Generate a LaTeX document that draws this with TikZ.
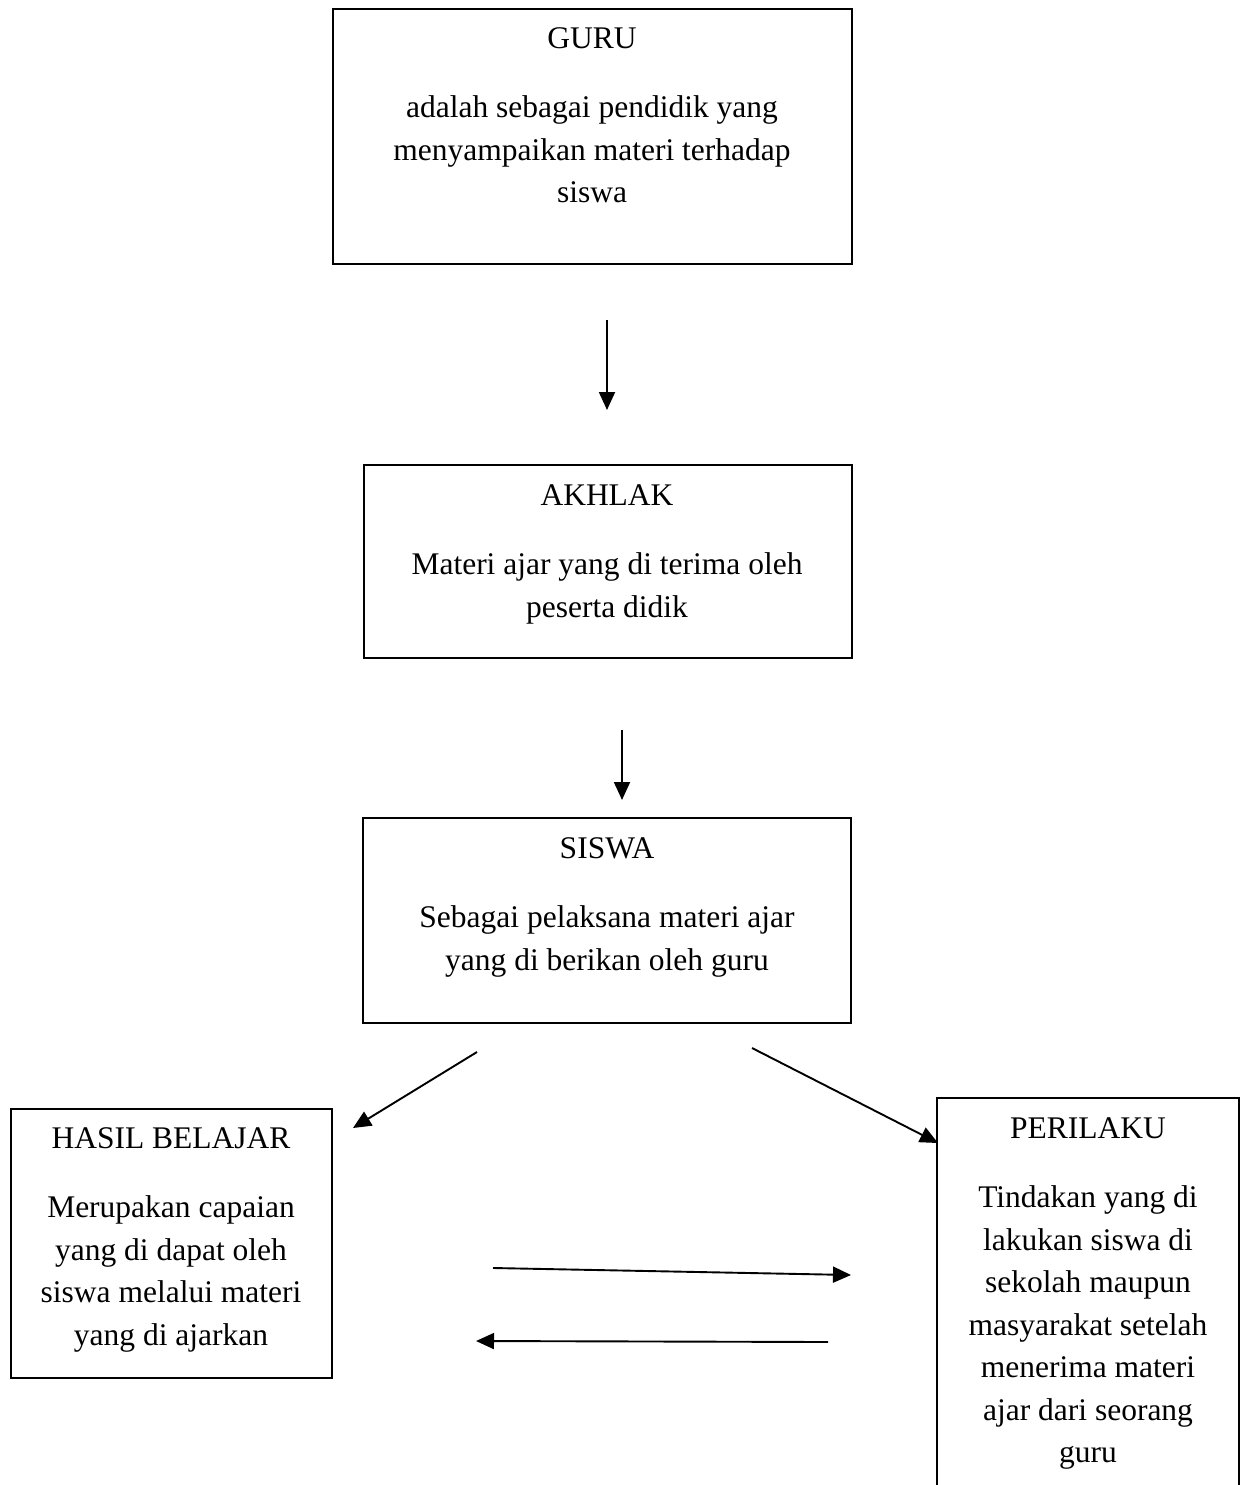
\documentclass[tikz,border=0pt]{standalone}
\usepackage{fontspec}
\setmainfont{Liberation Serif}
\usetikzlibrary{arrows.meta}
\begin{document}
\begin{tikzpicture}[x=1pt,y=-1pt,
  box/.style={draw, line width=1.7pt, inner sep=0pt},
  txt/.style={align=center, inner sep=0pt, anchor=north, font=\fontsize{31.5}{42.5}\selectfont},
  arr/.style={line width=1.9pt, -{Triangle[length=18pt,width=16pt]}}]
\useasboundingbox (0,0) rectangle (1240,1485);
% boxes
\node[box, minimum width=519pt, minimum height=255pt] (guru) at (592.5,136.5) {};
\node[box, minimum width=488pt, minimum height=193pt] (akhlak) at (608,561.5) {};
\node[box, minimum width=488pt, minimum height=205pt] (siswa) at (607,920.5) {};
\node[box, minimum width=321pt, minimum height=269pt] (hasil) at (171.5,1243.5) {};
\node[box, minimum width=302pt, minimum height=392pt] (perilaku) at (1088,1294) {};
% texts
\node[txt] (gurut) at (592,27.6) {GURU\\[26.5pt] adalah sebagai pendidik yang\\ menyampaikan materi terhadap\\ siswa};
\node[txt] (akhlakt) at (607,484.6) {AKHLAK\\[26.5pt] Materi ajar yang di terima oleh\\ peserta didik};
\node[txt] (siswat) at (607,837.6) {SISWA\\[26.5pt] Sebagai pelaksana materi ajar\\ yang di berikan oleh guru};
\node[txt] (hasilt) at (171,1127.6) {HASIL BELAJAR\\[26.5pt] Merupakan capaian\\ yang di dapat oleh\\ siswa melalui materi\\ yang di ajarkan};
\node[txt] (perilakut) at (1088,1117.6) {PERILAKU\\[26.5pt] Tindakan yang di\\ lakukan siswa di\\ sekolah maupun\\ masyarakat setelah\\ menerima materi\\ ajar dari seorang\\ guru};
% arrow end points
\coordinate (a1s) at (607,320); \coordinate (a1e) at (607,410);
\coordinate (a2s) at (622,730); \coordinate (a2e) at (622,800);
\coordinate (dls) at (477,1052); \coordinate (dle) at (353,1128);
\coordinate (drs) at (752,1048); \coordinate (dre) at (938,1143);
\coordinate (hts) at (493,1268); \coordinate (hte) at (851,1275);
\coordinate (hbs) at (828,1342); \coordinate (hbe) at (476,1341);
\draw[arr] (a1s) -- (a1e);
\draw[arr] (a2s) -- (a2e);
\draw[arr] (dls) -- (dle);
\draw[arr] (drs) -- (dre);
\draw[arr] (hts) -- (hte);
\draw[arr] (hbs) -- (hbe);
\end{tikzpicture}
\end{document}
